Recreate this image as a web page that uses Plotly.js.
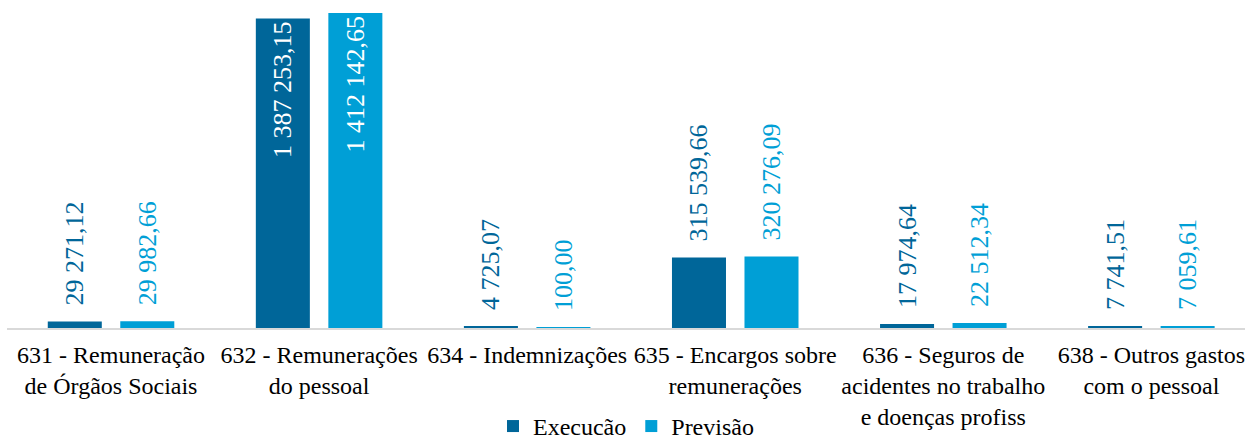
<!DOCTYPE html>
<html>
<head>
<meta charset="utf-8">
<script src="https://cdn.plot.ly/plotly-3.0.1.min.js"></script>
<style>html,body{margin:0;padding:0;background:#fff;}#chart{width:1245px;height:441px;}
#chart text, #chart tspan { font-family: 'Liberation Serif', 'Times New Roman', serif !important; }</style>
</head>
<body>
<div id="chart"></div>
<script>
const categories = [
  "631 - Remuneração<br>de Órgãos Sociais",
  "632 - Remunerações<br>do pessoal",
  "634 - Indemnizações",
  "635 - Encargos sobre<br>remunerações",
  "636 - Seguros de<br>acidentes no trabalho<br>e doenças profiss",
  "638 - Outros gastos<br>com o pessoal"
];
const execucao = [29271.12, 1387253.15, 4725.07, 315539.66, 17974.64, 7741.51];
const previsao = [29982.66, 1412142.65, 100.00, 320276.09, 22512.34, 7059.61];
const seriesNames = ["Execucão", "Previsão"];

function fmt(v) {
  const parts = v.toFixed(2).split(".");
  const intPart = parts[0].replace(/\B(?=(\d{3})+(?!\d))/g, " ");
  return intPart + "," + parts[1];
}
const xs = categories.map((c, i) => i);
const darkC = "#006699";
const lightC = "#009FD6";
const FAM = "Liberation Serif";

function pos(vals) { return vals.map(v => v > 1000000 ? "inside" : "outside"); }
function labels(vals) { return vals.map(v => (v > 1000000 ? "" : "\u00a0\u00a0") + fmt(v)); }

const traces = [
  {type: "bar", name: seriesNames[0], x: xs, y: execucao, marker: {color: darkC},
   text: labels(execucao), textposition: pos(execucao), textangle: -90,
   insidetextanchor: "end", constraintext: "none", cliponaxis: false,
   insidetextfont: {family: FAM, size: 26, color: "#ffffff"},
   outsidetextfont: {family: FAM, size: 26, color: darkC}, hoverinfo: "none"},
  {type: "bar", name: seriesNames[1], x: xs, y: previsao, marker: {color: lightC},
   text: labels(previsao), textposition: pos(previsao), textangle: -90,
   insidetextanchor: "end", constraintext: "none", cliponaxis: false,
   insidetextfont: {family: FAM, size: 26, color: "#ffffff"},
   outsidetextfont: {family: FAM, size: 26, color: lightC}, hoverinfo: "none"}
];

const layout = {
  width: 1245, height: 441,
  margin: {l: 7, r: 0, t: 5, b: 113},
  paper_bgcolor: "#ffffff", plot_bgcolor: "#ffffff",
  barmode: "group", bargap: 0.303, bargroupgap: 0.255,
  showlegend: true,
  legend: {orientation: "h", x: 0.5, xanchor: "center", yref: "container", y: 0.033, yanchor: "middle",
           font: {family: FAM, size: 24, color: "#000"}, itemwidth: 30, traceorder: "normal"},
  xaxis: {range: [-0.5, 5.45], tickmode: "array", tickvals: xs, ticktext: categories,
          showgrid: false, zeroline: false, showline: true, linecolor: "#d9d9d9", linewidth: 2,
          ticks: "", ticklabelstandoff: 4, ticklabeloverflow: "allow", automargin: false,
          tickfont: {family: FAM, size: 24, color: "#000"}, fixedrange: true},
  yaxis: {range: [0, 1448000], visible: false, showgrid: false, zeroline: false, fixedrange: true}
};

Plotly.newPlot("chart", traces, layout, {displayModeBar: false});
</script>
</body>
</html>
